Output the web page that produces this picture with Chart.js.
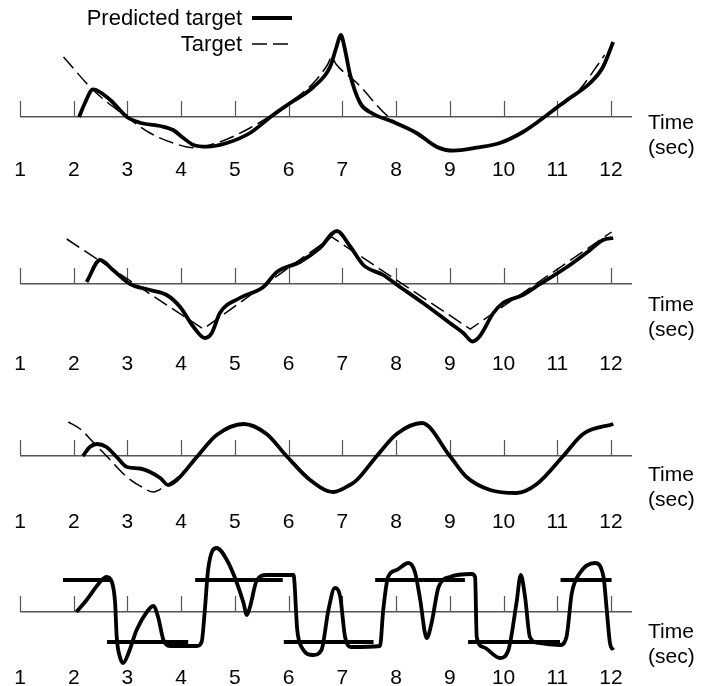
<!DOCTYPE html>
<html>
<head>
<meta charset="utf-8">
<script src="https://cdn.jsdelivr.net/npm/chart.js@4.4.1/dist/chart.umd.min.js"></script>
<style>
  html, body { margin: 0; padding: 0; background: #fff; }
  #wrap { position: relative; width: 710px; height: 686px; }
  #wrap canvas { position: absolute; left: 0; }
</style>
</head>
<body>
<div id="wrap">
  <canvas id="c1" width="710" height="185" style="top:0px"></canvas>
  <canvas id="c2" width="710" height="195" style="top:185px"></canvas>
  <canvas id="c3" width="710" height="155" style="top:380px"></canvas>
  <canvas id="c4" width="710" height="151" style="top:535px"></canvas>
</div>
<script>
// time axis tick labels (sec)
const timeTicks = [1, 2, 3, 4, 5, 6, 7, 8, 9, 10, 11, 12];

// panel 1
const p1PredT = [2.10, 2.20, 2.36, 2.68, 2.99, 3.23, 3.61, 3.85, 4.04, 4.23, 4.48, 4.85, 5.28, 5.71, 6.03, 6.46, 6.77, 6.89, 6.97, 7.05, 7.14, 7.33, 7.51, 7.95, 8.38, 8.76, 9.06, 9.50, 9.93, 10.36, 10.81, 11.18, 11.61, 11.85, 12.04];
const p1Pred  = [0, 13, 27.7, 17, 0, -5.7, -9, -13, -21, -28, -29.7, -26, -16, 2, 14, 30, 50, 70, 82, 67, 43, 14, 5, -5, -16, -30, -33.7, -30.7, -26, -15, 2, 17, 34, 50, 75];
const p1TargT = [1.81, 2.36, 2.99, 3.42, 3.85, 4.23, 4.66, 5.28, 5.90, 6.46, 6.72, 6.80, 6.88, 7.27, 7.86, 8.38, 8.76, 9.06, 9.50, 9.93, 10.36, 10.81, 11.36, 11.79, 11.88];
const p1Targ  = [60, 27, 0, -16, -26, -30.7, -26, -11, 10, 34, 52, 60, 53, 34, 0, -17, -30, -33.7, -31, -26, -15, 2, 24, 55, 62];

// panel 2
const p2PredT = [2.24, 2.49, 2.73, 3.05, 3.42, 3.73, 3.98, 4.23, 4.44, 4.57, 4.72, 5.09, 5.53, 5.78, 6.21, 6.58, 6.90, 7.14, 7.39, 7.76, 8.02, 8.50, 9.00, 9.25, 9.42, 9.56, 9.81, 9.99, 10.36, 10.68, 11.18, 11.61, 11.85, 12.04];
const p2Pred  = [2, 24, 14, 0, -6, -11, -23, -43, -54, -49, -29, -14, -3, 12, 22, 36, 53, 38, 19, 9, -1, -19, -39, -49, -57.5, -52, -29, -19, -11, 0, 17, 34, 44, 46];
const p2TargT = [1.87, 4.41, 6.80, 9.38, 12.01];
const p2Targ  = [45, -45, 47, -45, 52];

// panel 3
const p3PredT = [2.17, 2.30, 2.43, 2.61, 2.80, 2.99, 3.23, 3.42, 3.61, 3.76, 3.92, 4.29, 4.66, 5.16, 5.59, 5.96, 6.40, 6.83, 7.14, 7.27, 7.64, 8.01, 8.48, 9.00, 9.31, 9.75, 10.24, 10.62, 11.11, 11.48, 12.04];
const p3Pred  = [0, 9, 12, 9, -1, -11, -12.5, -16, -22, -29, -24, -1, 21, 32, 22, 0, -24, -36, -29, -24, 0, 22, 33, 0, -21, -34, -37, -28, 0, 22, 32];
const p3TargT = [1.90, 2.12, 2.36, 2.68, 2.99, 3.30, 3.48, 3.73, 3.92, 4.29, 4.66, 5.16, 5.59, 5.96, 6.40, 6.83, 7.14, 7.64, 8.01, 8.48, 9.00, 9.31, 9.75, 10.24, 10.62, 11.11, 11.48, 12.04];
const p3Targ  = [34, 27, 14, -4, -21, -32, -36, -29, -22, -1, 21, 32, 22, 0, -24, -36, -29, 0, 22, 33, 0, -21, -34, -37, -28, 0, 22, 32];

// panel 4
const p4PredT = [2.05, 2.24, 2.49, 2.61, 2.71, 2.77, 2.80, 2.86, 2.92, 3.02, 3.17, 3.36, 3.48, 3.57, 3.67, 3.79, 4.29, 4.38, 4.44, 4.50, 4.66, 4.85, 5.03, 5.16, 5.22, 5.28, 5.41, 5.59, 6.09, 6.16, 6.24, 6.46, 6.61, 6.74, 6.86, 6.96, 7.05, 7.17, 7.70, 7.76, 7.85, 8.01, 8.23, 8.35, 8.44, 8.57, 8.66, 8.79, 9.00, 9.41, 9.47, 9.50, 9.62, 9.93, 10.09, 10.24, 10.32, 10.40, 10.49, 10.65, 11.05, 11.17, 11.27, 11.42, 11.70, 11.86, 11.92, 11.98, 12.04];
const p4Pred  = [0, 12, 30, 35, 30, 9, -25, -45, -51, -41, -18, 0, 6, -5, -28, -34, -34, -30, 2, 42, 64, 52, 30, 9, -3, 5, 32, 37, 37, -18, -35, -43, -38, 2, 24, 15, -25, -35, -34, 2, 35, 42, 49, 40, 15, -26, -11, 25, 35, 38, 35, -25, -35, -46, -38, 9, 37, 15, -25, -31, -33, -25, 19, 39, 49, 35, 2, -31, -38];
const p4TargT = [1.80, 2.68, 2.65, 2.62, 4.13, 4.20, 4.26, 5.89, 5.90, 5.91, 7.58, 7.60, 7.61, 9.28, 9.31, 9.34, 11.05, 11.055, 11.06, 12.01];
const p4Targ  = [32, 32, null, -30, -30, null, 32, 32, null, -30, -30, null, 32, 32, null, -30, -30, null, 32, 32];

const FONT = '"Liberation Sans", Arial, Helvetica, sans-serif';
Chart.defaults.font.family = FONT;
Chart.defaults.font.size = 21;
Chart.defaults.color = '#000';

function pts(xs, ys) {
    return xs.map((x, i) => ({ x: x, y: ys[i] }));
}

// upward tick marks on the time axis + "Time (sec)" label
const axisDecor = {
    id: 'axisDecor',
    beforeDatasetsDraw(chart, args, opts) {
        const { ctx, scales: { x, y } } = chart;
        const y0 = y.getPixelForValue(0);
        ctx.save();
        ctx.strokeStyle = '#555';
        ctx.lineWidth = 1.2;
        x.ticks.forEach(t => {
            const px = Math.round(x.getPixelForValue(t.value)) + 0.5;
            ctx.beginPath();
            ctx.moveTo(px, y0);
            ctx.lineTo(px, y0 - 16);
            ctx.stroke();
        });
        ctx.fillStyle = '#000';
        ctx.font = '21px ' + FONT;
        ctx.textAlign = 'left';
        ctx.textBaseline = 'middle';
        ctx.fillText('Time', x.right + 16, y0 + opts.timeOffset);
        ctx.fillText('(sec)', x.right + 16, y0 + opts.timeOffset + 25);
        ctx.restore();
    }
};

// key in the top panel: label text on the left, line sample on the right
const keyBox = {
    id: 'keyBox',
    afterDraw(chart, args, opts) {
        if (!opts.show) return;
        const ctx = chart.ctx;
        chart.data.datasets.forEach((ds, i) => {
            const yy = opts.top + i * opts.rowGap;
            ctx.save();
            ctx.font = '22px ' + FONT;
            ctx.fillStyle = '#000';
            ctx.textAlign = 'right';
            ctx.textBaseline = 'middle';
            ctx.fillText(ds.label, opts.textRight, yy + 1);
            ctx.strokeStyle = ds.borderColor;
            ctx.lineWidth = ds.borderWidth;
            ctx.setLineDash(ds.borderDash || []);
            ctx.beginPath();
            ctx.moveTo(opts.textRight + 10, yy);
            ctx.lineTo(opts.textRight + 50, yy);
            ctx.stroke();
            ctx.restore();
        });
    }
};

function makePanel(id, cfg) {
    return new Chart(document.getElementById(id), {
        type: 'line',
        data: {
            datasets: [
                {
                    label: 'Predicted target',
                    data: pts(cfg.predT, cfg.pred),
                    borderColor: '#000',
                    borderWidth: 3.8,
                    pointRadius: 0,
                    cubicInterpolationMode: 'monotone',
                    fill: false,
                    clip: false
                },
                {
                    label: 'Target',
                    data: pts(cfg.targT, cfg.targ),
                    borderColor: '#000',
                    borderWidth: cfg.targWidth,
                    borderDash: cfg.targDash,
                    pointRadius: 0,
                    cubicInterpolationMode: cfg.targSmooth ? 'monotone' : 'default',
                    tension: 0,
                    spanGaps: false,
                    fill: false,
                    clip: false
                }
            ]
        },
        options: {
            responsive: false,
            animation: false,
            events: [],
            layout: { padding: { left: 20, right: 78, top: cfg.padTop, bottom: 0 } },
            plugins: {
                legend: { display: false },
                tooltip: { enabled: false },
                axisDecor: { timeOffset: cfg.timeOffset },
                keyBox: { show: !!cfg.key, top: 18, rowGap: 26, textRight: 242 }
            },
            scales: {
                x: {
                    type: 'linear',
                    min: 1,
                    max: 12.39,
                    afterBuildTicks: s => { s.ticks = timeTicks.map(v => ({ value: v })); },
                    afterFit: s => { s.height = cfg.axisH; },
                    grid: { display: false },
                    border: { display: false },
                    ticks: { padding: 2, autoSkip: false, maxRotation: 0, color: '#000', font: { size: 21 } }
                },
                y: {
                    min: cfg.yMin,
                    max: cfg.yMax,
                    afterBuildTicks: s => { s.ticks = [{ value: 0 }]; },
                    afterFit: s => { s.width = 0; },
                    ticks: { display: false },
                    grid: { color: '#555', lineWidth: 1.5, drawTicks: false },
                    border: { display: false }
                }
            }
        },
        plugins: [axisDecor, keyBox]
    });
}

makePanel('c1', { predT: p1PredT, pred: p1Pred, targT: p1TargT, targ: p1Targ, targWidth: 1.5, targDash: [15, 6], targSmooth: true,
    padTop: 30, axisH: 37, yMin: -31, yMax: 87, timeOffset: 6, key: true });
makePanel('c2', { predT: p2PredT, pred: p2Pred, targT: p2TargT, targ: p2Targ, targWidth: 1.5, targDash: [15, 6], targSmooth: false,
    padTop: 35, axisH: 38, yMin: -58, yMax: 64, timeOffset: 21 });
makePanel('c3', { predT: p3PredT, pred: p3Pred, targT: p3TargT, targ: p3Targ, targWidth: 1.5, targDash: [15, 6], targSmooth: true,
    padTop: 30, axisH: 35, yMin: -44, yMax: 46, timeOffset: 19 });
makePanel('c4', { predT: p4PredT, pred: p4Pred, targT: p4TargT, targ: p4Targ, targWidth: 3.8, targDash: [], targSmooth: false,
    padTop: 10, axisH: 30, yMin: -44, yMax: 67, timeOffset: 20 });
</script>
</body>
</html>
